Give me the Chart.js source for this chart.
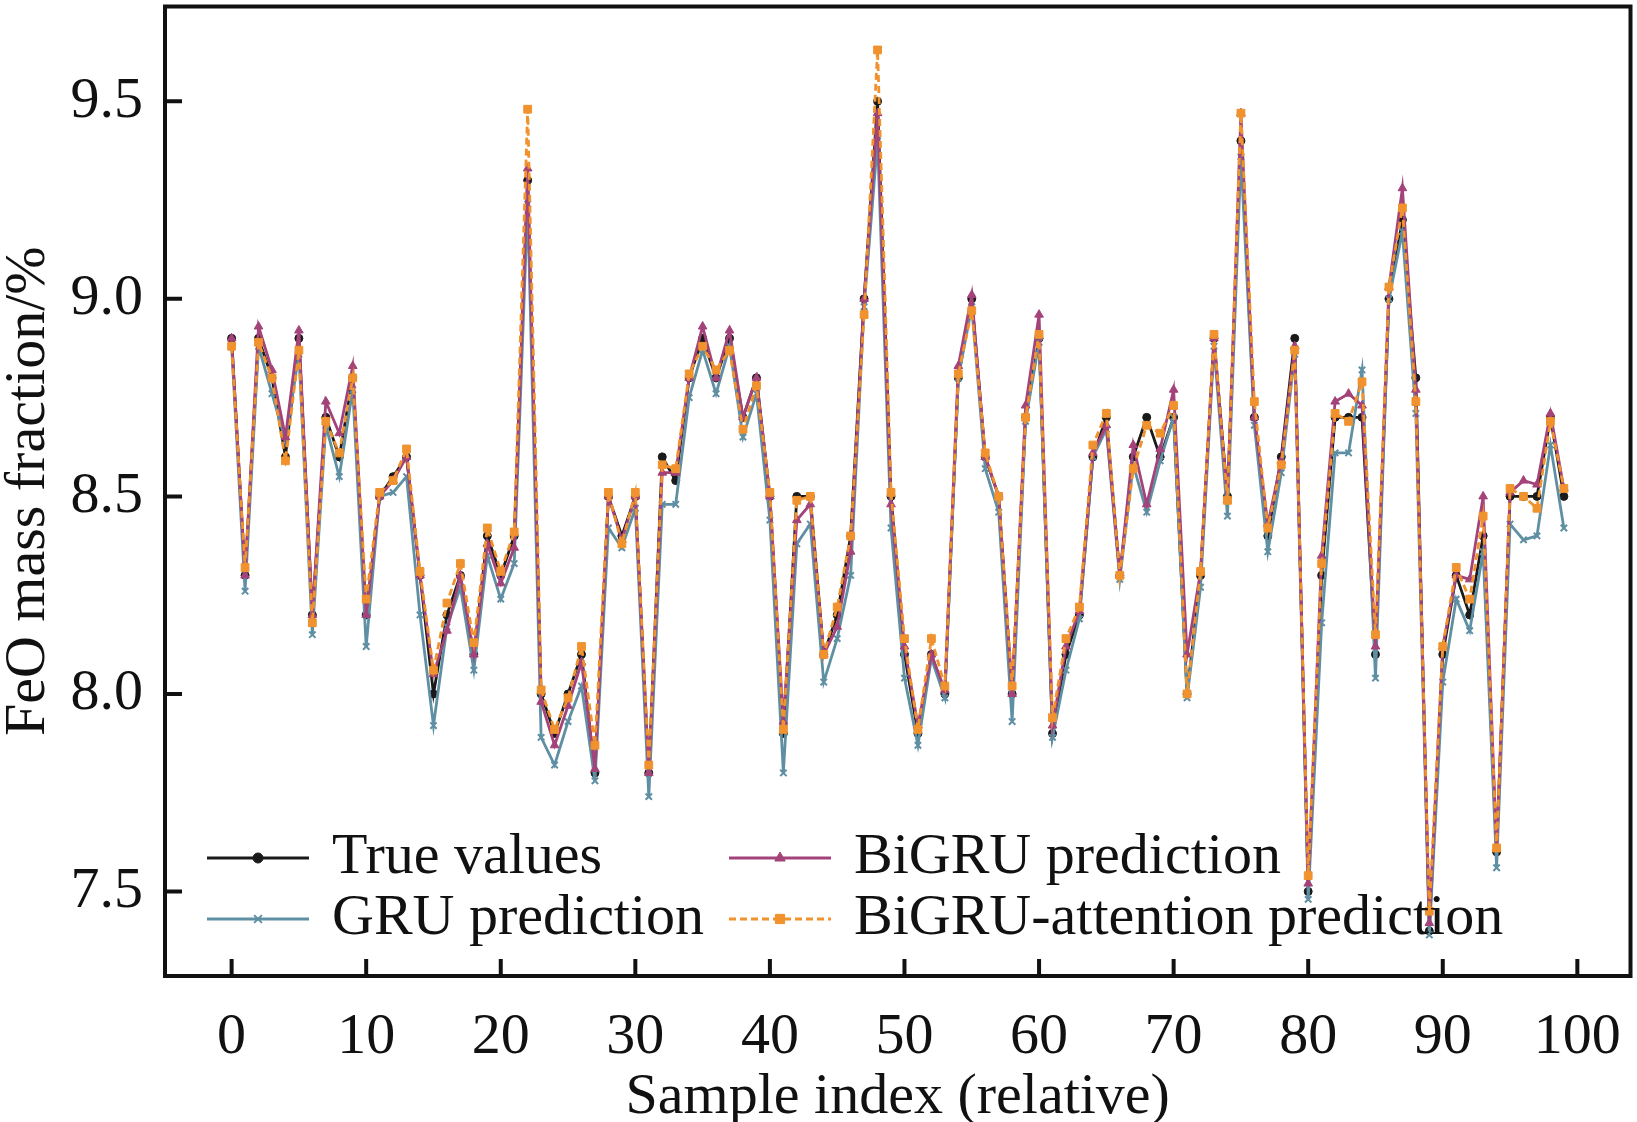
<!DOCTYPE html>
<html lang="en">
<head>
    <meta charset="UTF-8">
    <title>FeO mass fraction prediction</title>
    <script src="https://cdn.jsdelivr.net/npm/chart.js"></script>
    <style>
        html, body { margin: 0; padding: 0; background: #ffffff; }
        #wrap { width: 1637px; height: 1122px; }
    </style>
</head>
<body>
    <div id="wrap"><canvas id="feoChart" width="1637" height="1122"></canvas></div>
    <script>
        // values
        const trueValues = [
            8.9, 8.3, 8.9, 8.8, 8.6, 8.9, 8.2, 8.7, 8.6, 8.8,
            8.2, 8.5, 8.55, 8.6, 8.3, 8.0, 8.2, 8.3, 8.1, 8.4,
            8.3, 8.4, 9.3, 8.0, 7.9, 8.0, 8.1, 7.8, 8.5, 8.4,
            8.5, 7.8, 8.6, 8.54, 8.8, 8.9, 8.8, 8.9, 8.7, 8.8,
            8.5, 7.9, 8.5, 8.5, 8.1, 8.2, 8.4, 9.0, 9.5, 8.5,
            8.1, 7.9, 8.1, 8.0, 8.8, 9.0, 8.6, 8.5, 8.0, 8.7,
            8.9, 7.9, 8.1, 8.2, 8.6, 8.7, 8.3, 8.6, 8.7, 8.6,
            8.7, 8.0, 8.3, 8.9, 8.5, 9.4, 8.7, 8.4, 8.6, 8.9,
            7.5, 8.3, 8.7, 8.7, 8.7, 8.1, 9.0, 9.2, 8.8, 7.4,
            8.1, 8.3, 8.2, 8.4, 7.6, 8.5, 8.5, 8.5, 8.7, 8.5
        ];
        const gruPred = [
            8.88, 8.26, 8.88, 8.76, 8.64, 8.86, 8.15, 8.68, 8.55, 8.77,
            8.12, 8.50, 8.51, 8.55, 8.20, 7.92, 8.17, 8.27, 8.06, 8.35,
            8.24, 8.33, 9.24, 7.89, 7.82, 7.93, 8.02, 7.78, 8.42, 8.37,
            8.47, 7.74, 8.48, 8.48, 8.75, 8.87, 8.76, 8.88, 8.65, 8.76,
            8.44, 7.80, 8.38, 8.43, 8.03, 8.14, 8.30, 8.98, 9.40, 8.42,
            8.04, 7.87, 8.09, 7.99, 8.80, 8.98, 8.57, 8.46, 7.93, 8.69,
            8.89, 7.89, 8.06, 8.19, 8.60, 8.67, 8.29, 8.58, 8.46, 8.59,
            8.70, 7.99, 8.27, 8.88, 8.45, 9.36, 8.68, 8.36, 8.56, 8.86,
            7.48, 8.18, 8.61, 8.61, 8.82, 8.04, 9.00, 9.17, 8.71, 7.39,
            8.03, 8.24, 8.16, 8.36, 7.56, 8.43, 8.39, 8.40, 8.63, 8.42
        ];
        const bigruPred = [
            8.90, 8.30, 8.93, 8.82, 8.65, 8.92, 8.20, 8.74, 8.66, 8.83,
            8.20, 8.50, 8.54, 8.60, 8.30, 8.05, 8.16, 8.30, 8.10, 8.38,
            8.28, 8.37, 9.33, 7.98, 7.87, 7.97, 8.08, 7.81, 8.50, 8.39,
            8.50, 7.80, 8.56, 8.56, 8.80, 8.93, 8.80, 8.92, 8.70, 8.80,
            8.50, 7.93, 8.44, 8.48, 8.10, 8.17, 8.36, 9.00, 9.47, 8.48,
            8.12, 7.92, 8.10, 8.01, 8.83, 9.01, 8.60, 8.50, 8.00, 8.73,
            8.96, 7.92, 8.12, 8.21, 8.61, 8.68, 8.30, 8.63, 8.48, 8.62,
            8.77, 8.10, 8.31, 8.90, 8.49, 9.47, 8.70, 8.43, 8.59, 8.88,
            7.52, 8.35, 8.74, 8.76, 8.73, 8.12, 9.03, 9.28, 8.77, 7.42,
            8.12, 8.30, 8.29, 8.50, 7.61, 8.51, 8.54, 8.53, 8.71, 8.52
        ];
        const attentionPred = [
            8.88, 8.32, 8.89, 8.80, 8.59, 8.87, 8.18, 8.69, 8.61, 8.80,
            8.24, 8.51, 8.54, 8.62, 8.31, 8.06, 8.23, 8.33, 8.13, 8.42,
            8.31, 8.41, 9.48, 8.01, 7.91, 7.99, 8.12, 7.87, 8.51, 8.38,
            8.51, 7.82, 8.58, 8.57, 8.81, 8.88, 8.82, 8.87, 8.67, 8.78,
            8.51, 7.91, 8.49, 8.50, 8.10, 8.22, 8.40, 8.96, 9.63, 8.51,
            8.14, 7.91, 8.14, 8.02, 8.81, 8.97, 8.61, 8.50, 8.02, 8.70,
            8.91, 7.94, 8.14, 8.22, 8.63, 8.71, 8.30, 8.57, 8.68, 8.66,
            8.73, 8.00, 8.31, 8.91, 8.49, 9.47, 8.74, 8.42, 8.58, 8.87,
            7.54, 8.33, 8.71, 8.69, 8.79, 8.15, 9.03, 9.23, 8.74, 7.45,
            8.12, 8.32, 8.24, 8.45, 7.61, 8.52, 8.50, 8.47, 8.69, 8.52
        ];
        const xTicks = [0, 10, 20, 30, 40, 50, 60, 70, 80, 90, 100];
        const yTicks = [7.5, 8.0, 8.5, 9.0, 9.5];

        const FONT = 'Liberation Serif, Times New Roman, serif';
        const FONT_SIZE = 58;

        function toPoints(values) {
            return values.map((v, i) => ({ x: i, y: v }));
        }

        // box frame with inward tick marks, like the original plot
        const framePlugin = {
            id: 'frame',
            afterDraw(chart) {
                const { ctx, chartArea: a, scales } = chart;
                ctx.save();
                ctx.strokeStyle = '#111111';
                ctx.lineWidth = 4;
                ctx.strokeRect(a.left, a.top, a.right - a.left, a.bottom - a.top);
                ctx.beginPath();
                scales.x.ticks.forEach(t => {
                    const px = scales.x.getPixelForValue(t.value);
                    ctx.moveTo(px, a.bottom);
                    ctx.lineTo(px, a.bottom - 17);
                });
                scales.y.ticks.forEach(t => {
                    const py = scales.y.getPixelForValue(t.value);
                    ctx.moveTo(a.left, py);
                    ctx.lineTo(a.left + 17, py);
                });
                ctx.stroke();
                ctx.restore();
            }
        };

        // two-column legend in the lower left of the plot
        const legendPlugin = {
            id: 'innerLegend',
            afterDraw(chart) {
                const { ctx } = chart;
                const items = [
                    { ds: 0, x: 207, y: 858 },
                    { ds: 1, x: 207, y: 919 },
                    { ds: 2, x: 729, y: 858 },
                    { ds: 3, x: 729, y: 919 }
                ];
                ctx.save();
                items.forEach(it => {
                    const d = chart.data.datasets[it.ds];
                    ctx.strokeStyle = d.borderColor;
                    ctx.lineWidth = d.borderWidth;
                    ctx.setLineDash(d.borderDash || []);
                    ctx.beginPath();
                    ctx.moveTo(it.x, it.y);
                    ctx.lineTo(it.x + 102, it.y);
                    ctx.stroke();
                    ctx.setLineDash([]);
                    ctx.fillStyle = d.pointBackgroundColor;
                    ctx.strokeStyle = d.pointBorderColor;
                    ctx.lineWidth = d.pointBorderWidth;
                    Chart.helpers.drawPoint(ctx, {
                        pointStyle: d.pointStyle,
                        radius: d.pointRadius + 1,
                        rotation: 0,
                        borderWidth: d.pointBorderWidth
                    }, it.x + 51, it.y);
                    ctx.fillStyle = '#111111';
                    ctx.font = FONT_SIZE + 'px ' + FONT;
                    ctx.textBaseline = 'middle';
                    ctx.textAlign = 'left';
                    ctx.fillText(d.label, it.x + 125, it.y);
                });
                ctx.restore();
            }
        };

        const ctx = document.getElementById('feoChart').getContext('2d');
        new Chart(ctx, {
            type: 'line',
            data: {
                datasets: [
                    {
                        label: 'True values',
                        data: toPoints(trueValues),
                        borderColor: '#1a1a1a',
                        borderWidth: 2.8,
                        pointStyle: 'circle',
                        pointRadius: 4,
                        pointBackgroundColor: '#1a1a1a',
                        pointBorderColor: '#1a1a1a',
                        pointBorderWidth: 1,
                        order: 4
                    },
                    {
                        label: 'GRU prediction',
                        data: toPoints(gruPred),
                        borderColor: '#5f8fa3',
                        borderWidth: 2.8,
                        pointStyle: 'crossRot',
                        pointRadius: 4.5,
                        pointBackgroundColor: '#5f8fa3',
                        pointBorderColor: '#5f8fa3',
                        pointBorderWidth: 2,
                        order: 3
                    },
                    {
                        label: 'BiGRU prediction',
                        data: toPoints(bigruPred),
                        borderColor: '#a3437a',
                        borderWidth: 2.8,
                        pointStyle: 'triangle',
                        pointRadius: 5,
                        pointBackgroundColor: '#a3437a',
                        pointBorderColor: '#a3437a',
                        pointBorderWidth: 1,
                        order: 2
                    },
                    {
                        label: 'BiGRU-attention prediction',
                        data: toPoints(attentionPred),
                        borderColor: '#f0922e',
                        borderWidth: 2.8,
                        borderDash: [7, 4],
                        pointStyle: 'rect',
                        pointRadius: 5.5,
                        pointBackgroundColor: '#f0922e',
                        pointBorderColor: '#f0922e',
                        pointBorderWidth: 1,
                        order: 1
                    }
                ]
            },
            options: {
                responsive: false,
                animation: false,
                devicePixelRatio: 1,
                layout: { padding: { top: 0, right: 5, left: 0, bottom: 0 } },
                elements: { line: { tension: 0 } },
                plugins: {
                    legend: { display: false },
                    tooltip: { enabled: false }
                },
                scales: {
                    x: {
                        type: 'linear',
                        min: -4.95,
                        max: 103.95,
                        afterBuildTicks: s => { s.ticks = xTicks.map(v => ({ value: v })); },
                        afterFit: s => {
                            s.height = 146;
                            s.paddingLeft = 0;
                            s.paddingRight = 0;
                        },
                        grid: { display: false, drawTicks: false },
                        border: { display: false },
                        ticks: {
                            padding: 27,
                            color: '#111111',
                            font: { family: FONT, size: FONT_SIZE },
                            maxRotation: 0,
                            callback: v => String(v)
                        },
                        title: {
                            display: true,
                            text: 'Sample index (relative)',
                            color: '#111111',
                            font: { family: FONT, size: FONT_SIZE, lineHeight: 0.85 },
                            padding: { top: 0, bottom: 0 }
                        }
                    },
                    y: {
                        type: 'linear',
                        min: 7.286,
                        max: 9.74,
                        afterBuildTicks: s => { s.ticks = yTicks.map(v => ({ value: v })); },
                        afterFit: s => {
                            s.width = 165;
                            s.paddingTop = 0;
                            s.paddingBottom = 0;
                        },
                        grid: { display: false, drawTicks: false },
                        border: { display: false },
                        ticks: {
                            padding: 22,
                            color: '#111111',
                            font: { family: FONT, size: FONT_SIZE },
                            callback: v => Number(v).toFixed(1)
                        },
                        title: {
                            display: true,
                            text: 'FeO mass fraction/%',
                            color: '#111111',
                            font: { family: FONT, size: FONT_SIZE, lineHeight: 1 },
                            padding: { top: 0, bottom: 0 }
                        }
                    }
                }
            },
            plugins: [framePlugin, legendPlugin]
        });
    </script>
</body>
</html>
